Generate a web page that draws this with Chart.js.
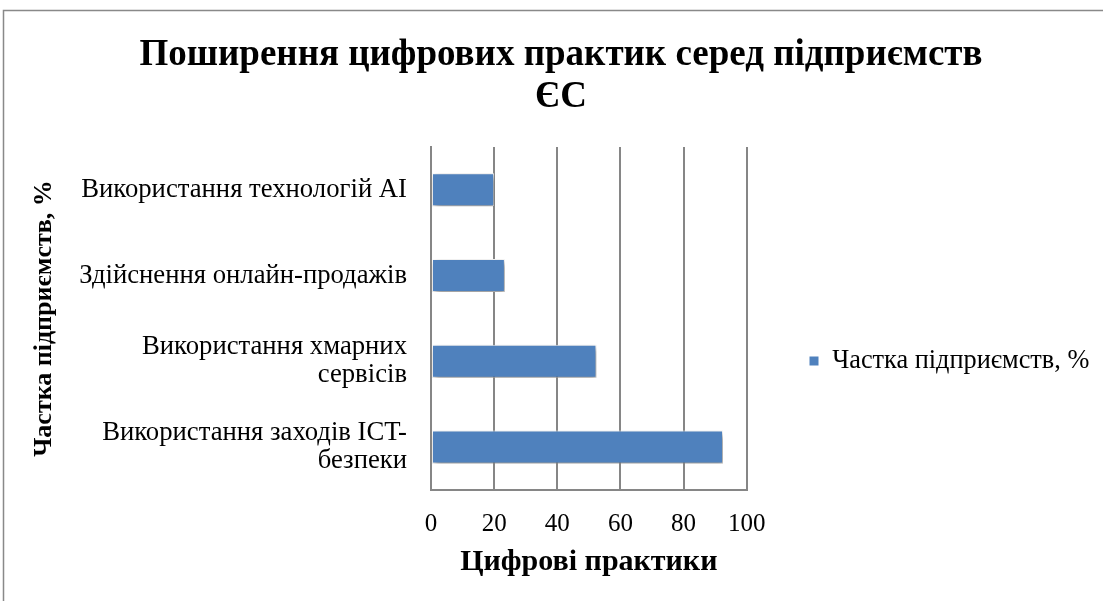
<!DOCTYPE html>
<html>
<head>
<meta charset="utf-8">
<script src="https://cdn.jsdelivr.net/npm/chart.js@4"></script>
<style>
html,body{margin:0;padding:0;background:#fff;}
#wrap{width:1103px;height:601px;position:relative;}
</style>
</head>
<body>
<div id="wrap"><canvas id="c" width="1103" height="601"></canvas></div>
<script>
const categories = [
  ['Використання технологій AI'],
  ['Здійснення онлайн-продажів'],
  ['Використання хмарних', 'сервісів'],
  ['Використання заходів ICT-', 'безпеки']
];
const seriesName = 'Частка підприємств, %';
const shares = [20, 23.4, 52.4, 92.5];
const xTicks = [0, 20, 40, 60, 80, 100];
const titleLines = ['Поширення цифрових практик серед підприємств', 'ЄС'];
const xTitle = 'Цифрові практики';
const yTitle = 'Частка підприємств, %';

const FONT = "'Liberation Serif', 'Times New Roman', serif";
const LEG_PAD = 65;
const LEG_FONT = 26.3;

const framePlugin = {
  id: 'frame',
  beforeDraw(chart) {
    const ctx = chart.ctx;
    ctx.save();
    ctx.fillStyle = '#fff';
    ctx.fillRect(0, 0, chart.width, chart.height);
    ctx.strokeStyle = '#898989';
    ctx.lineWidth = 1.5;
    ctx.beginPath();
    ctx.moveTo(3.5, chart.height);
    ctx.lineTo(3.5, 10.5);
    ctx.lineTo(chart.width, 10.5);
    ctx.stroke();
    ctx.restore();
  }
};

const shadowPlugin = {
  id: 'barShadow',
  beforeDatasetDraw(chart) {
    const ctx = chart.ctx;
    ctx.save();
    ctx.shadowColor = 'rgba(0,0,0,0.45)';
    ctx.shadowBlur = 6;
    ctx.shadowOffsetX = 2;
    ctx.shadowOffsetY = 3;
  },
  afterDatasetDraw(chart) {
    chart.ctx.restore();
  }
};

// place the legend block where the reference has it (to the right of the plot)
const legendPlace = {
  id: 'legendPlace',
  afterLayout(chart) {
    const lg = chart.legend;
    if (!lg) return;
    const dx = (809 - LEG_PAD) - lg.left;
    lg.left += dx; lg.right += dx;
    const h = lg.bottom - lg.top;
    lg.top = 361 - LEG_PAD - LEG_FONT / 2; lg.bottom = lg.top + h;
  }
};

new Chart(document.getElementById('c'), {
  type: 'bar',
  data: {
    labels: categories,
    datasets: [{
      label: seriesName,
      data: shares,
      backgroundColor: '#4f81bd',
      borderColor: '#ffffff',
      borderWidth: 1,
      borderSkipped: false,
      barPercentage: 0.55,
      categoryPercentage: 0.7
    }]
  },
  options: {
    indexAxis: 'y',
    responsive: false,
    animation: false,
    devicePixelRatio: 1,
    events: [],
    layout: { padding: { top: 10, left: 20, right: 1, bottom: 18 } },
    plugins: {
      title: {
        display: true,
        text: titleLines,
        color: '#000',
        font: { family: FONT, size: 37, weight: 'bold', lineHeight: 1.12 },
        padding: { top: 25, bottom: 29 }
      },
      legend: {
        position: 'right',
        align: 'start',
        maxWidth: 500,
        labels: {
          color: '#000',
          font: { family: FONT, size: LEG_FONT },
          boxWidth: 10,
          boxHeight: 10,
          padding: LEG_PAD
        }
      },
      tooltip: { enabled: false }
    },
    scales: {
      x: {
        min: 0,
        max: 100,
        afterBuildTicks(scale) { scale.ticks = xTicks.map(v => ({ value: v })); },
        afterFit(scale) { scale.height = 93; },
        grid: { color: '#868686', lineWidth: 2, drawTicks: false },
        border: { display: true, color: '#868686', width: 2 },
        ticks: { color: '#000', font: { family: FONT, size: 25 }, padding: 19 },
        title: {
          display: true,
          text: xTitle,
          color: '#000',
          font: { family: FONT, size: 30, weight: 'bold', lineHeight: 1.2 },
          padding: { top: 0, bottom: 3 }
        }
      },
      y: {
        afterFit(scale) { scale.width = 411; },
        grid: { display: false, drawTicks: false },
        border: { display: true, color: '#868686', width: 2 },
        ticks: { color: '#000', font: { family: FONT, size: 26.7, lineHeight: 1.05 }, padding: 24 },
        title: {
          display: true,
          text: yTitle,
          color: '#000',
          font: { family: FONT, size: 26, weight: 'bold', lineHeight: 1.2 },
          padding: { top: 9, bottom: 0 }
        }
      }
    }
  },
  plugins: [framePlugin, shadowPlugin, legendPlace]
});
</script>
</body>
</html>
